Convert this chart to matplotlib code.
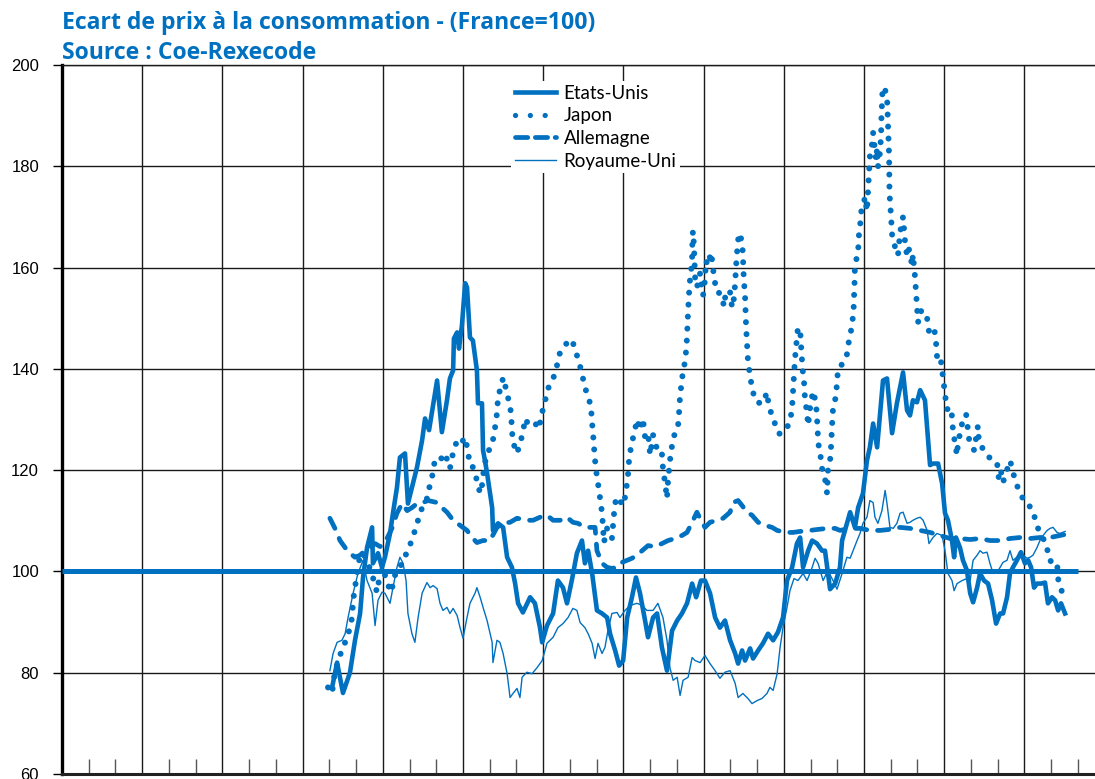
import matplotlib
matplotlib.use("Agg")
import matplotlib.pyplot as plt
from matplotlib.lines import Line2D
from matplotlib.ticker import FixedLocator

blue = "#0070C0"

# (decimal year, index France=100)
etats_unis = [
    (1980.10, 77.0), (1980.29, 82.0), (1980.51, 76.0), (1980.77, 80.0), (1980.96, 86.4),
    (1981.15, 91.7), (1981.26, 98.8), (1981.41, 104.7), (1981.60, 108.7), (1981.63, 101.6),
    (1981.82, 103.6), (1981.97, 100.8), (1982.08, 102.8), (1982.27, 107.5), (1982.38, 111.5),
    (1982.53, 116.6), (1982.64, 122.5), (1982.83, 123.3), (1982.94, 113.4), (1983.28, 120.6),
    (1983.47, 125.9), (1983.58, 130.2), (1983.73, 127.9), (1984.03, 137.7), (1984.21, 127.5),
    (1984.40, 133.8), (1984.51, 138.1), (1984.63, 139.7), (1984.66, 146.0), (1984.78, 147.2),
    (1984.85, 144.0), (1984.96, 148.6), (1985.08, 156.9), (1985.15, 156.1), (1985.26, 146.2),
    (1985.37, 145.6), (1985.52, 139.7), (1985.56, 133.2), (1985.71, 133.2), (1985.75, 123.9),
    (1985.82, 121.9), (1985.90, 119.4), (1986.09, 112.6), (1986.12, 108.1), (1986.31, 109.5),
    (1986.50, 108.7), (1986.65, 102.8), (1986.83, 100.8), (1986.95, 97.6), (1987.06, 93.7),
    (1987.24, 91.9), (1987.51, 94.9), (1987.69, 93.7), (1987.88, 88.9), (1987.96, 86.0),
    (1988.14, 89.3), (1988.37, 91.7), (1988.55, 98.2), (1988.74, 96.8), (1988.89, 93.7),
    (1989.08, 98.5), (1989.26, 103.6), (1989.45, 106.1), (1989.56, 101.6), (1989.68, 104.1),
    (1989.83, 99.6), (1990.01, 92.3), (1990.20, 91.7), (1990.39, 90.9), (1990.50, 87.7),
    (1990.69, 84.4), (1990.84, 81.4), (1990.99, 82.4), (1991.14, 90.9), (1991.32, 94.9),
    (1991.47, 98.8), (1991.62, 95.7), (1991.81, 90.3), (1991.92, 87.0), (1992.11, 90.9),
    (1992.26, 91.7), (1992.44, 85.0), (1992.63, 80.4), (1992.82, 88.3), (1993.01, 90.3),
    (1993.19, 91.7), (1993.38, 93.7), (1993.57, 97.6), (1993.72, 94.9), (1993.90, 98.2),
    (1994.05, 98.2), (1994.24, 95.7), (1994.43, 90.9), (1994.61, 88.9), (1994.80, 90.3),
    (1994.99, 86.4), (1995.18, 83.8), (1995.29, 81.8), (1995.44, 84.4), (1995.55, 82.4),
    (1995.74, 84.8), (1995.85, 82.8), (1996.04, 84.4), (1996.22, 85.8), (1996.41, 87.7),
    (1996.60, 86.4), (1996.78, 88.0), (1996.97, 90.9), (1997.12, 98.2), (1997.31, 100.8),
    (1997.49, 105.5), (1997.61, 106.7), (1997.72, 100.8), (1997.91, 104.1), (1998.06, 106.1),
    (1998.24, 105.5), (1998.43, 104.1), (1998.54, 104.1), (1998.73, 96.5), (1998.92, 97.6),
    (1999.10, 100.8), (1999.18, 106.1), (1999.36, 109.5), (1999.48, 111.7), (1999.66, 108.7),
    (1999.78, 112.6), (1999.96, 115.4), (2000.11, 121.9), (2000.22, 124.5), (2000.34, 129.2),
    (2000.49, 124.5), (2000.71, 137.7), (2000.86, 138.1), (2001.05, 127.3), (2001.23, 133.2),
    (2001.46, 139.3), (2001.61, 131.8), (2001.72, 130.8), (2001.83, 133.8), (2001.98, 133.4),
    (2002.10, 135.8), (2002.28, 133.8), (2002.47, 121.0), (2002.58, 121.3), (2002.77, 121.3),
    (2002.92, 117.4), (2003.03, 111.5), (2003.14, 110.1), (2003.29, 106.1), (2003.37, 102.8),
    (2003.44, 106.7), (2003.59, 104.7), (2003.70, 102.2), (2003.85, 100.2), (2003.97, 95.7),
    (2004.08, 93.9), (2004.23, 96.8), (2004.34, 99.6), (2004.49, 98.2), (2004.64, 97.6),
    (2004.79, 94.3), (2004.94, 89.7), (2005.09, 91.7), (2005.20, 91.7), (2005.35, 94.9),
    (2005.46, 99.6), (2005.57, 100.8), (2005.72, 102.2), (2005.87, 103.8), (2006.02, 101.6),
    (2006.14, 102.2), (2006.25, 100.8), (2006.36, 96.8), (2006.47, 97.6), (2006.62, 97.6),
    (2006.77, 97.8), (2006.88, 93.7), (2007.03, 94.9), (2007.15, 94.3), (2007.26, 92.3),
    (2007.37, 93.7), (2007.52, 91.7),
]

japon = [
    (1979.95, 77.1), (1980.10, 75.9), (1980.21, 80.4), (1980.32, 82.0), (1980.47, 84.6),
    (1980.66, 86.8), (1980.77, 88.9), (1980.85, 90.9), (1980.89, 94.3), (1980.96, 96.8),
    (1981.07, 100.8), (1981.15, 103.2), (1981.26, 103.6), (1981.41, 102.2), (1981.63, 98.8),
    (1981.78, 95.9), (1981.90, 99.6), (1982.01, 100.8), (1982.16, 97.6), (1982.34, 95.9),
    (1982.38, 98.2), (1982.57, 100.8), (1982.76, 101.6), (1982.91, 104.1), (1983.09, 106.1),
    (1983.28, 109.5), (1983.47, 112.6), (1983.58, 114.0), (1983.69, 114.6), (1983.77, 117.6),
    (1983.88, 119.4), (1983.95, 122.3), (1984.07, 122.5), (1984.21, 122.3), (1984.33, 123.3),
    (1984.51, 120.3), (1984.63, 123.5), (1984.78, 125.9), (1984.93, 125.3), (1985.08, 126.5),
    (1985.19, 123.5), (1985.26, 120.9), (1985.37, 120.6), (1985.52, 118.0), (1985.64, 115.4),
    (1985.71, 117.0), (1985.79, 120.6), (1985.90, 123.3), (1986.09, 125.0), (1986.20, 128.5),
    (1986.27, 131.2), (1986.31, 134.4), (1986.46, 137.3), (1986.50, 138.3), (1986.65, 135.2),
    (1986.76, 132.4), (1986.80, 131.2), (1986.83, 127.9), (1986.87, 125.5), (1987.02, 123.3),
    (1987.13, 125.3), (1987.24, 127.3), (1987.32, 130.2), (1987.43, 129.2), (1987.58, 128.5),
    (1987.77, 129.2), (1987.84, 128.3), (1987.96, 131.4), (1988.03, 132.8), (1988.14, 135.2),
    (1988.22, 136.7), (1988.37, 138.1), (1988.48, 139.7), (1988.59, 142.7), (1988.74, 144.3),
    (1988.89, 145.1), (1989.08, 145.8), (1989.19, 143.7), (1989.30, 142.1), (1989.45, 139.1),
    (1989.56, 136.2), (1989.68, 134.8), (1989.79, 132.2), (1989.83, 129.2), (1989.86, 127.5),
    (1989.90, 124.5), (1989.94, 121.9), (1990.01, 118.6), (1990.09, 116.0), (1990.16, 113.0),
    (1990.20, 111.7), (1990.24, 108.5), (1990.27, 105.7), (1990.39, 108.5), (1990.57, 106.5),
    (1990.65, 111.5), (1990.72, 114.4), (1990.84, 114.6), (1990.95, 113.0), (1991.06, 114.6),
    (1991.14, 117.6), (1991.17, 119.0), (1991.21, 121.9), (1991.28, 124.5), (1991.32, 125.5),
    (1991.43, 127.9), (1991.51, 130.0), (1991.62, 127.9), (1991.73, 130.2), (1991.81, 126.5),
    (1991.92, 127.3), (1992.00, 123.0), (1992.11, 126.9), (1992.22, 124.9), (1992.29, 123.3),
    (1992.44, 123.3), (1992.48, 120.3), (1992.56, 117.4), (1992.63, 114.4), (1992.67, 118.0),
    (1992.74, 121.9), (1992.82, 124.9), (1992.93, 127.5), (1993.04, 128.5), (1993.08, 131.2),
    (1993.12, 134.8), (1993.19, 137.7), (1993.23, 139.7), (1993.27, 140.3), (1993.34, 143.3),
    (1993.38, 146.2), (1993.40, 149.2), (1993.42, 151.5), (1993.45, 154.5), (1993.49, 157.5),
    (1993.53, 159.1), (1993.57, 162.1), (1993.58, 165.0), (1993.60, 167.2), (1993.64, 164.4),
    (1993.66, 161.4), (1993.68, 158.1), (1993.72, 157.1), (1993.75, 156.1), (1993.87, 158.9),
    (1993.94, 155.5), (1993.98, 154.5), (1994.05, 157.5), (1994.09, 161.4), (1994.16, 160.4),
    (1994.28, 163.0), (1994.35, 160.0), (1994.39, 158.1), (1994.43, 156.9), (1994.50, 156.9),
    (1994.58, 154.9), (1994.69, 154.3), (1994.76, 152.3), (1994.84, 155.5), (1994.99, 155.1),
    (1995.06, 152.3), (1995.10, 152.1), (1995.18, 156.9), (1995.21, 160.0), (1995.25, 162.8),
    (1995.27, 164.4), (1995.32, 166.8), (1995.44, 165.2), (1995.47, 162.4), (1995.49, 159.3),
    (1995.51, 157.3), (1995.55, 154.3), (1995.57, 151.4), (1995.59, 148.2), (1995.62, 145.3),
    (1995.66, 141.5), (1995.74, 138.7), (1995.77, 137.5), (1995.85, 136.4), (1995.87, 134.4),
    (1996.00, 133.4), (1996.15, 133.2), (1996.22, 133.2), (1996.37, 135.4), (1996.45, 132.2),
    (1996.56, 131.0), (1996.63, 130.2), (1996.71, 127.9), (1996.86, 127.1), (1996.97, 127.5),
    (1997.12, 128.5), (1997.23, 129.4), (1997.31, 132.4), (1997.34, 135.2), (1997.36, 136.8),
    (1997.38, 139.3), (1997.42, 142.3), (1997.46, 143.9), (1997.49, 146.6), (1997.53, 148.0),
    (1997.61, 148.0), (1997.64, 145.0), (1997.68, 141.9), (1997.70, 140.1), (1997.76, 137.1),
    (1997.79, 134.2), (1997.87, 131.2), (1997.91, 128.8), (1997.98, 132.2), (1998.09, 135.6),
    (1998.20, 133.4), (1998.24, 130.5), (1998.28, 126.3), (1998.32, 123.9), (1998.37, 123.5),
    (1998.39, 121.3), (1998.47, 119.4), (1998.54, 118.4), (1998.58, 116.6), (1998.62, 115.4),
    (1998.65, 119.9), (1998.73, 121.9), (1998.77, 124.9), (1998.80, 128.3), (1998.84, 132.2),
    (1998.95, 134.6), (1998.99, 137.3), (1999.03, 140.1), (1999.18, 140.9), (1999.33, 142.0),
    (1999.40, 144.0), (1999.44, 145.8), (1999.51, 147.4), (1999.59, 150.4), (1999.61, 151.8),
    (1999.63, 154.7), (1999.65, 157.7), (1999.66, 160.7), (1999.74, 162.1), (1999.78, 163.4),
    (1999.81, 166.4), (1999.85, 168.0), (1999.89, 170.9), (1999.96, 172.3), (2000.04, 173.9),
    (2000.11, 171.1), (2000.15, 175.0), (2000.19, 179.0), (2000.22, 182.0), (2000.30, 184.4),
    (2000.34, 186.6), (2000.45, 181.2), (2000.49, 183.6), (2000.52, 179.8), (2000.60, 182.8),
    (2000.64, 186.4), (2000.65, 189.3), (2000.67, 192.3), (2000.69, 194.9), (2000.75, 195.7),
    (2000.86, 193.9), (2000.88, 190.7), (2000.90, 187.8), (2000.92, 184.8), (2000.94, 181.8),
    (2000.95, 176.1), (2000.97, 173.1), (2001.01, 170.2), (2001.05, 166.5), (2001.12, 165.0),
    (2001.20, 163.2), (2001.27, 162.4), (2001.35, 167.0), (2001.46, 170.0), (2001.53, 165.4),
    (2001.61, 162.2), (2001.68, 163.6), (2001.80, 160.4), (2001.83, 162.6), (2001.91, 158.0),
    (2001.95, 154.7), (2001.98, 151.9), (2002.02, 149.2), (2002.13, 151.5), (2002.21, 150.0),
    (2002.36, 150.0), (2002.43, 147.4), (2002.54, 148.0), (2002.62, 148.2), (2002.69, 145.4),
    (2002.73, 142.5), (2002.77, 141.1), (2002.88, 141.5), (2002.96, 138.1), (2003.03, 135.2),
    (2003.10, 132.0), (2003.25, 132.4), (2003.29, 130.6), (2003.33, 127.7), (2003.40, 125.5),
    (2003.48, 122.9), (2003.52, 125.7), (2003.63, 127.9), (2003.70, 130.4), (2003.82, 131.0),
    (2003.89, 127.9), (2003.93, 126.1), (2004.04, 124.9), (2004.12, 123.9), (2004.26, 128.7),
    (2004.30, 125.5), (2004.45, 124.2), (2004.53, 123.3), (2004.71, 122.4), (2004.83, 121.5),
    (2004.98, 121.3), (2005.05, 118.0), (2005.13, 119.6), (2005.20, 117.6), (2005.35, 120.1),
    (2005.46, 121.9), (2005.57, 119.9), (2005.61, 118.8), (2005.69, 117.6), (2005.76, 116.4),
    (2005.87, 115.0), (2005.95, 114.4), (2006.10, 113.6), (2006.17, 113.4), (2006.25, 111.8),
    (2006.32, 111.5), (2006.43, 110.1), (2006.51, 108.5), (2006.58, 107.5), (2006.70, 106.5),
    (2006.85, 105.1), (2006.88, 102.6), (2007.03, 101.8), (2007.22, 101.8), (2007.26, 98.6),
    (2007.33, 96.8), (2007.44, 95.7), (2007.63, 95.0),
]

allemagne = [
    (1980.02, 110.5), (1980.21, 108.5), (1980.40, 106.1), (1980.59, 104.7), (1980.77, 103.6),
    (1980.96, 102.8), (1981.15, 103.2), (1981.33, 104.1), (1981.52, 104.7), (1981.71, 105.5),
    (1981.90, 104.9), (1982.08, 105.7), (1982.34, 108.5), (1982.53, 111.5), (1982.72, 113.4),
    (1982.91, 112.0), (1983.09, 112.6), (1983.28, 113.4), (1983.50, 113.6), (1983.69, 114.0),
    (1984.03, 113.6), (1984.21, 112.6), (1984.40, 111.7), (1984.63, 110.1), (1984.89, 109.1),
    (1985.15, 108.1), (1985.34, 106.7), (1985.52, 105.7), (1985.75, 106.1), (1986.01, 106.1),
    (1986.27, 108.7), (1986.50, 109.5), (1986.76, 109.7), (1987.02, 110.5), (1987.39, 110.1),
    (1987.62, 110.1), (1987.88, 110.7), (1988.14, 111.1), (1988.37, 110.1), (1988.63, 110.1),
    (1988.89, 110.7), (1989.11, 109.7), (1989.30, 109.5), (1989.56, 108.7), (1989.94, 108.7),
    (1990.01, 104.1), (1990.20, 101.6), (1990.39, 100.8), (1990.57, 100.6), (1990.76, 100.8),
    (1990.95, 101.8), (1991.14, 102.2), (1991.32, 102.6), (1991.51, 103.2), (1991.70, 104.1),
    (1991.92, 105.1), (1992.18, 104.9), (1992.44, 105.5), (1992.67, 106.1), (1992.93, 106.5),
    (1993.19, 107.1), (1993.38, 107.7), (1993.57, 109.7), (1993.75, 111.7), (1993.94, 109.7),
    (1994.05, 108.7), (1994.24, 109.7), (1994.50, 110.1), (1994.73, 110.5), (1994.99, 111.7),
    (1995.10, 113.6), (1995.29, 114.0), (1995.44, 113.0), (1995.62, 111.7), (1995.81, 111.1),
    (1996.04, 109.7), (1996.30, 109.1), (1996.56, 108.7), (1996.75, 108.1), (1997.05, 107.7),
    (1997.34, 107.7), (1997.61, 107.9), (1997.98, 108.1), (1998.28, 108.3), (1998.62, 108.5),
    (1998.92, 108.5), (1999.10, 108.1), (1999.48, 108.5), (1999.85, 108.5), (2000.22, 108.1),
    (2000.60, 108.1), (2000.97, 108.3), (2001.35, 108.7), (2001.72, 108.5), (2002.10, 108.1),
    (2002.47, 107.7), (2002.84, 107.1), (2003.22, 106.5), (2003.59, 106.5), (2003.97, 106.3),
    (2004.34, 106.5), (2004.71, 106.1), (2005.09, 106.1), (2005.46, 106.5), (2005.84, 106.7),
    (2006.21, 106.5), (2006.58, 106.7), (2006.96, 106.7), (2007.33, 107.1), (2007.52, 107.3),
]

royaume_uni = [
    (1980.02, 80.4), (1980.14, 83.8), (1980.29, 86.0), (1980.47, 86.4), (1980.59, 87.7),
    (1980.70, 90.9), (1980.89, 95.7), (1981.07, 99.6), (1981.26, 102.2), (1981.41, 98.2),
    (1981.60, 95.7), (1981.71, 89.3), (1981.82, 94.3), (1981.97, 95.9), (1982.08, 95.7),
    (1982.27, 93.7), (1982.38, 96.8), (1982.53, 100.8), (1982.64, 102.8), (1982.76, 101.6),
    (1982.87, 98.2), (1982.94, 91.7), (1983.09, 87.7), (1983.20, 86.0), (1983.32, 90.9),
    (1983.47, 95.7), (1983.65, 97.8), (1983.77, 96.8), (1983.88, 97.2), (1984.03, 96.6),
    (1984.14, 93.7), (1984.25, 92.3), (1984.40, 92.9), (1984.51, 91.7), (1984.63, 92.7),
    (1984.78, 91.3), (1984.89, 88.9), (1985.00, 86.8), (1985.15, 90.9), (1985.26, 93.7),
    (1985.45, 95.7), (1985.52, 96.8), (1985.64, 94.9), (1985.75, 92.9), (1985.90, 90.3),
    (1986.09, 86.0), (1986.12, 82.0), (1986.27, 86.4), (1986.38, 86.0), (1986.50, 83.8),
    (1986.65, 79.8), (1986.76, 75.1), (1986.87, 75.9), (1987.02, 76.9), (1987.13, 75.1),
    (1987.21, 79.1), (1987.39, 80.1), (1987.58, 79.8), (1987.77, 81.0), (1987.96, 82.4),
    (1988.14, 85.8), (1988.37, 87.0), (1988.55, 88.9), (1988.74, 89.7), (1988.93, 90.9),
    (1989.11, 92.7), (1989.26, 92.3), (1989.38, 89.9), (1989.56, 88.9), (1989.68, 87.7),
    (1989.83, 85.8), (1989.94, 82.8), (1990.05, 85.8), (1990.20, 83.8), (1990.31, 85.0),
    (1990.42, 88.3), (1990.57, 91.7), (1990.76, 91.9), (1990.87, 90.9), (1991.06, 92.3),
    (1991.25, 93.3), (1991.51, 93.7), (1991.70, 93.3), (1991.88, 92.3), (1992.11, 92.3),
    (1992.29, 93.7), (1992.48, 90.9), (1992.63, 86.4), (1992.74, 81.0), (1992.86, 78.5),
    (1993.01, 79.1), (1993.12, 75.5), (1993.23, 78.5), (1993.42, 79.1), (1993.57, 83.0),
    (1993.68, 82.4), (1993.87, 82.0), (1994.05, 83.4), (1994.24, 81.8), (1994.43, 80.4),
    (1994.61, 78.9), (1994.80, 80.1), (1994.99, 80.4), (1995.18, 77.9), (1995.29, 75.1),
    (1995.47, 75.9), (1995.66, 74.9), (1995.81, 73.9), (1996.00, 74.5), (1996.18, 74.9),
    (1996.37, 75.9), (1996.48, 77.1), (1996.60, 76.5), (1996.75, 79.8), (1996.86, 85.0),
    (1996.97, 88.9), (1997.12, 92.9), (1997.23, 96.2), (1997.38, 98.6), (1997.53, 98.2),
    (1997.72, 99.6), (1997.87, 98.2), (1998.06, 100.8), (1998.17, 102.6), (1998.28, 101.6),
    (1998.47, 98.2), (1998.65, 100.2), (1998.84, 98.2), (1998.99, 96.5), (1999.18, 99.6),
    (1999.36, 102.8), (1999.48, 102.6), (1999.59, 104.1), (1999.74, 106.1), (1999.85, 107.5),
    (1999.96, 109.5), (2000.11, 110.7), (2000.22, 114.0), (2000.34, 113.6), (2000.41, 110.7),
    (2000.52, 109.5), (2000.67, 112.0), (2000.79, 116.0), (2000.86, 113.4), (2000.97, 108.7),
    (2001.09, 108.5), (2001.23, 109.5), (2001.35, 111.5), (2001.46, 111.7), (2001.61, 109.5),
    (2001.72, 109.7), (2001.83, 110.1), (2001.98, 110.5), (2002.10, 110.7), (2002.21, 110.1),
    (2002.36, 108.1), (2002.43, 105.5), (2002.58, 106.7), (2002.73, 107.5), (2002.92, 107.1),
    (2003.03, 104.1), (2003.14, 99.6), (2003.29, 98.2), (2003.37, 96.2), (2003.48, 97.6),
    (2003.67, 98.2), (2003.85, 98.6), (2003.97, 98.2), (2004.08, 102.2), (2004.23, 103.2),
    (2004.34, 104.1), (2004.45, 103.6), (2004.60, 103.8), (2004.71, 101.6), (2004.83, 99.6),
    (2004.98, 99.8), (2005.09, 100.8), (2005.20, 101.8), (2005.35, 102.2), (2005.46, 104.1),
    (2005.57, 102.2), (2005.72, 102.8), (2005.84, 103.6), (2005.95, 103.2), (2006.10, 102.6),
    (2006.21, 102.8), (2006.32, 103.2), (2006.47, 104.7), (2006.58, 106.1), (2006.70, 107.1),
    (2006.85, 108.1), (2006.96, 108.5), (2007.07, 108.7), (2007.22, 107.7), (2007.33, 107.5),
    (2007.52, 107.9),
]

france_t = [1970.0, 2008.0]
france_v = [100, 100]

major_years = list(range(1970, 2009, 3))
minor_years = [y for y in range(1971, 2009) if y not in major_years]
y_ticks = [60, 80, 100, 120, 140, 160, 180, 200]

dots = (0, (0.01, 2.0))
dashes = (0, (2.4, 2.3))

fig = plt.figure(figsize=(10.95, 7.79), dpi=100)
ax = fig.add_axes([62 / 1095, 5 / 779, 1 - 62 / 1095, 709 / 779])

t, v = zip(*royaume_uni)
ax.plot(t, v, color=blue, lw=1.0, zorder=3)
t, v = zip(*allemagne)
ax.plot(t, v, color=blue, lw=3.4, linestyle=dashes, dash_capstyle="round", zorder=3)
t, v = zip(*japon)
ax.plot(t, v, color=blue, lw=4.3, linestyle=dots, dash_capstyle="round", zorder=3)
t, v = zip(*etats_unis)
ax.plot(t, v, color=blue, lw=3.3, solid_joinstyle="round", zorder=4)
ax.plot(france_t, france_v, color=blue, lw=3.6, solid_capstyle="butt", zorder=4)

ax.set_xlim(1970, 2008.64)
ax.set_ylim(60, 200)

ax.xaxis.set_major_locator(FixedLocator(major_years))
ax.xaxis.set_minor_locator(FixedLocator(minor_years))
ax.yaxis.set_major_locator(FixedLocator(y_ticks))
ax.set_xticklabels([])
ax.tick_params(axis="x", which="major", length=0)
ax.tick_params(axis="x", which="minor", direction="in", length=11, width=1.0, color="#555555")
ax.tick_params(axis="y", which="major", direction="out", length=6.5, width=1.0, pad=10,
               labelsize=12, colors="black")
for lab in ax.get_yticklabels():
    lab.set_family("Liberation Sans")

ax.grid(which="major", color="#1a1a1a", lw=1.0, zorder=1)

ax.spines["right"].set_visible(False)
ax.spines["left"].set_linewidth(2.4)
ax.spines["left"].set_color("black")
ax.spines["bottom"].set_linewidth(2.2)
ax.spines["bottom"].set_color("#222222")
ax.spines["top"].set_linewidth(1.0)
ax.spines["top"].set_color("#1a1a1a")

handles = [
    Line2D([], [], color=blue, lw=3.3),
    Line2D([], [], color=blue, lw=3.8, linestyle=(0, (0.01, 2.8)), dash_capstyle="round"),
    Line2D([], [], color=blue, lw=3.4, linestyle=(0, (2.6, 1.6)), dash_capstyle="round"),
    Line2D([], [], color=blue, lw=1.0),
]
labels = ["Etats-Unis", "Japon", "Allemagne", "Royaume-Uni"]
leg = ax.legend(handles, labels, loc="upper left",
                bbox_to_anchor=(511 / 1095, 1 - 81 / 779), bbox_transform=fig.transFigure,
                prop={"family": "Lato", "size": 13.5}, handlelength=2.2, handletextpad=0.4,
                labelspacing=0.3, borderpad=0.2, borderaxespad=0, frameon=True,
                fancybox=False, framealpha=1)
leg.get_frame().set_facecolor("white")
leg.get_frame().set_edgecolor("none")
leg.set_zorder(6)

title_font = {"family": "Open Sans", "weight": "bold", "size": 16.6}
fig.text(62 / 1095, 1 - 23 / 779, "Ecart de prix à la consommation - (France=100)",
         color=blue, va="center", ha="left", fontdict=title_font)
fig.text(62 / 1095, 1 - 53 / 779, "Source : Coe-Rexecode",
         color=blue, va="center", ha="left", fontdict=title_font)

fig.savefig("out.png", dpi=100)
